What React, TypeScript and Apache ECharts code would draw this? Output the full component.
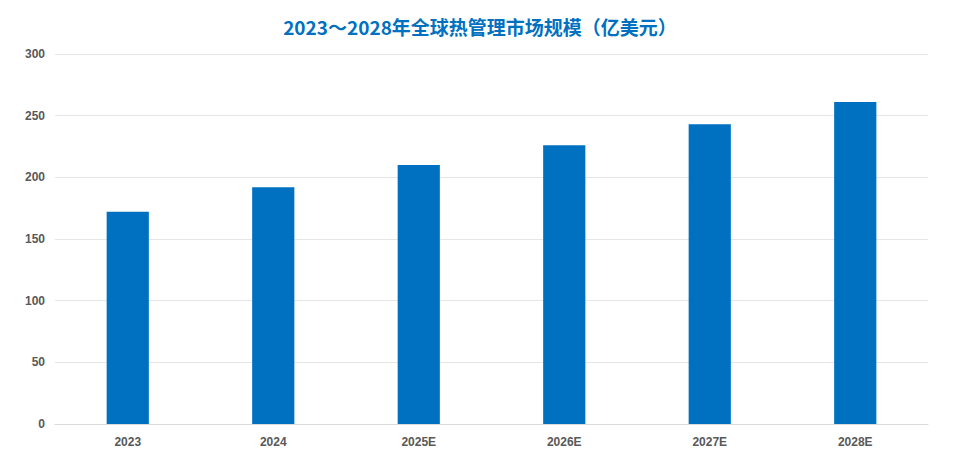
import { useEffect, useRef } from "react";
import * as echarts from "echarts";

const years = ["2023", "2024", "2025E", "2026E", "2027E", "2028E"];
const marketSize = [172, 192, 210, 226, 243, 261];
const yTicks = { min: 0, max: 300, interval: 50 };

export default function App() {
  const chartRef = useRef<HTMLDivElement>(null);

  useEffect(() => {
    document.body.style.margin = "0";
    if (!chartRef.current) return;
    const chart = echarts.init(chartRef.current, undefined, { renderer: "svg" });

    chart.setOption({
      animation: false,
      backgroundColor: "#ffffff",
      title: {
        text: "2023～2028年全球热管理市场规模（亿美元）",
        left: "center",
        top: 12,
        textStyle: {
          color: "#0070c0",
          fontSize: 19,
          fontWeight: "bold",
          fontFamily: "'Noto Sans CJK SC', 'Noto Sans', sans-serif",
        },
      },
      grid: { left: 55, right: 32, top: 54, bottom: 45 },
      xAxis: {
        type: "category",
        data: years,
        axisLine: { lineStyle: { color: "#d9d9d9" } },
        axisTick: { show: false },
        axisLabel: {
          color: "#595959",
          fontSize: 12,
          fontWeight: "bold",
          fontFamily: "Arial, 'Liberation Sans', sans-serif",
          margin: 12,
        },
      },
      yAxis: {
        type: "value",
        ...yTicks,
        axisLine: { show: false },
        axisTick: { show: false },
        splitLine: { lineStyle: { color: "#e6e6e6" } },
        axisLabel: {
          color: "#595959",
          fontSize: 12,
          fontWeight: "bold",
          fontFamily: "Arial, 'Liberation Sans', sans-serif",
          margin: 10,
        },
      },
      series: [
        {
          type: "bar",
          data: marketSize,
          barWidth: "29%",
          itemStyle: { color: "#0070c0" },
        },
      ],
    });

    return () => {
      chart.dispose();
    };
  }, []);

  return <div ref={chartRef} style={{ width: 960, height: 469 }} />;
}
